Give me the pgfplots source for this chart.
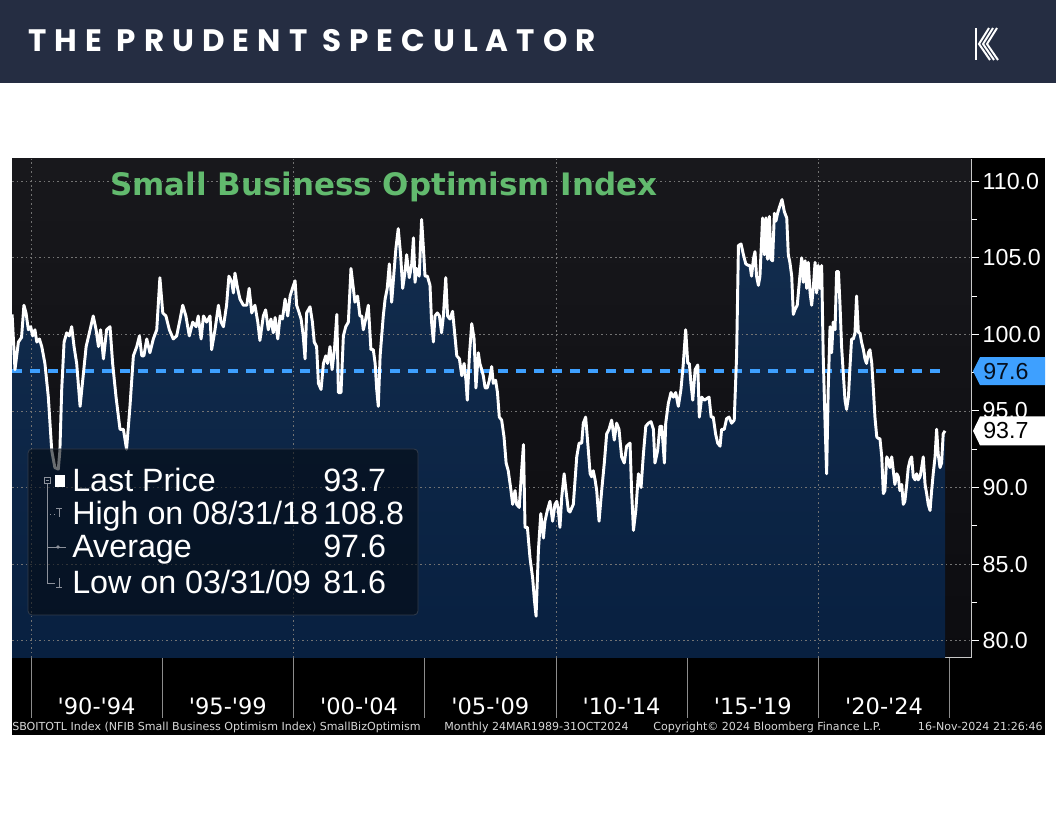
\documentclass[border=0pt]{standalone}
\usepackage{pgfplots}
\pgfplotsset{compat=1.18}
\usepackage{pgfplotstable}
\usepackage{fontspec}
\setmainfont{Liberation Sans}
\newfontfamily\djv{DejaVu Sans}
\newfontfamily\hdrfont[LetterSpace=26]{Poppins}
\usetikzlibrary{calc}

\definecolor{hdr}{RGB}{37,45,66}
\definecolor{ttl}{RGB}{98,186,110}
\definecolor{avgblue}{RGB}{62,160,255}
\definecolor{navytop}{RGB}{19,45,78}
\definecolor{navybot}{RGB}{8,32,64}
\definecolor{bgtop}{RGB}{24,24,28}
\definecolor{bgbot}{RGB}{12,12,16}
\definecolor{gridc}{RGB}{115,115,115}
\definecolor{sepgray}{RGB}{140,140,140}
\definecolor{axisgray}{RGB}{200,200,200}
\definecolor{legbg}{RGB}{4,10,18}
\definecolor{legborder}{RGB}{50,60,75}
\definecolor{treeg}{RGB}{140,145,155}
\definecolor{foot}{RGB}{215,215,215}
\definecolor{boxtext}{RGB}{5,15,30}

\pgfplotstableread{
yr v
1989.28 101.3
1989.39 97.7
1989.52 99.5
1989.64 99.8
1989.73 101.9
1989.81 101.4
1989.90 100.3
1989.99 100.5
1990.06 99.9
1990.15 100.3
1990.22 99.5
1990.32 99.7
1990.41 99.2
1990.53 98.1
1990.66 95.9
1990.79 92.4
1990.91 91.3
1991.04 91.2
1991.10 92.4
1991.17 96.4
1991.26 99.5
1991.36 100.1
1991.46 99.9
1991.55 100.5
1991.64 99.2
1991.74 98.1
1991.87 95.3
1991.97 97.0
1992.10 99.2
1992.25 100.3
1992.37 101.2
1992.48 100.3
1992.57 99.2
1992.65 100.3
1992.76 98.4
1992.88 100.3
1993.01 100.5
1993.11 98.1
1993.24 95.9
1993.39 93.8
1993.52 93.8
1993.64 92.5
1993.77 95.3
1993.90 98.6
1994.03 99.2
1994.13 99.9
1994.22 98.6
1994.30 98.6
1994.41 99.7
1994.53 98.8
1994.66 99.7
1994.79 100.3
1994.91 103.7
1995.02 101.4
1995.14 101.2
1995.27 100.3
1995.42 99.7
1995.55 99.9
1995.68 101.0
1995.78 101.9
1995.90 101.2
1996.03 99.9
1996.16 100.8
1996.29 100.5
1996.37 101.2
1996.48 99.7
1996.57 101.2
1996.69 100.8
1996.82 101.2
1996.88 99.0
1997.01 100.3
1997.14 101.9
1997.24 100.8
1997.33 100.5
1997.45 101.9
1997.54 103.8
1997.65 103.4
1997.71 102.7
1997.77 104.0
1997.87 103.0
1997.96 102.3
1998.09 101.9
1998.22 101.9
1998.31 103.0
1998.41 101.4
1998.53 101.9
1998.64 100.8
1998.72 99.6
1998.85 101.2
1998.94 101.6
1999.04 100.3
1999.14 101.0
1999.23 100.1
1999.30 101.1
1999.40 99.7
1999.49 101.2
1999.58 101.0
1999.68 102.3
1999.78 101.2
1999.87 102.5
1999.96 103.0
2000.06 103.5
2000.12 101.9
2000.18 101.6
2000.29 101.0
2000.37 99.9
2000.44 98.4
2000.50 101.4
2000.63 101.8
2000.72 100.8
2000.79 99.5
2000.88 99.2
2000.95 96.8
2001.05 96.4
2001.14 98.1
2001.23 98.6
2001.30 98.1
2001.39 99.2
2001.47 97.7
2001.56 99.0
2001.65 101.3
2001.71 96.2
2001.81 96.2
2001.90 99.9
2001.99 100.5
2002.09 100.8
2002.19 104.3
2002.28 103.0
2002.34 102.1
2002.44 102.5
2002.53 101.2
2002.60 101.2
2002.66 100.3
2002.75 101.0
2002.85 101.9
2002.95 99.0
2003.04 99.0
2003.11 98.1
2003.17 96.4
2003.23 95.3
2003.30 98.6
2003.36 99.9
2003.42 101.2
2003.49 102.3
2003.57 103.0
2003.65 104.6
2003.74 102.1
2003.83 104.1
2003.90 105.6
2003.99 106.9
2004.08 105.2
2004.16 103.0
2004.25 104.1
2004.31 105.2
2004.41 103.7
2004.50 104.5
2004.57 106.3
2004.63 103.4
2004.69 104.3
2004.79 103.8
2004.88 107.5
2004.95 105.6
2005.01 103.8
2005.10 103.8
2005.20 103.2
2005.26 100.8
2005.33 99.5
2005.39 101.2
2005.48 101.4
2005.56 101.2
2005.64 100.1
2005.71 101.2
2005.80 103.7
2005.87 101.2
2005.96 101.0
2006.06 101.5
2006.15 99.9
2006.22 98.6
2006.32 98.4
2006.41 97.3
2006.50 98.1
2006.57 97.0
2006.62 95.7
2006.70 98.6
2006.79 100.7
2006.88 99.7
2006.95 96.5
2007.04 98.8
2007.10 98.1
2007.17 97.7
2007.23 97.3
2007.30 96.5
2007.38 96.5
2007.46 97.0
2007.55 97.9
2007.61 96.8
2007.70 97.0
2007.77 96.2
2007.84 94.6
2007.93 94.4
2008.02 93.3
2008.10 91.6
2008.18 91.1
2008.27 90.0
2008.35 88.9
2008.44 89.8
2008.50 88.9
2008.60 88.7
2008.69 91.1
2008.76 92.8
2008.82 87.4
2008.91 87.4
2009.01 85.4
2009.11 84.1
2009.18 82.6
2009.24 81.6
2009.33 85.9
2009.42 88.3
2009.52 86.7
2009.58 87.8
2009.67 88.5
2009.77 89.1
2009.87 87.8
2009.96 88.9
2010.03 89.1
2010.09 88.5
2010.15 87.4
2010.22 89.4
2010.31 90.9
2010.38 89.8
2010.47 88.5
2010.53 88.4
2010.66 88.9
2010.79 92.0
2010.88 92.9
2010.98 92.9
2011.04 94.2
2011.13 94.6
2011.21 92.9
2011.30 90.9
2011.36 90.7
2011.42 91.1
2011.49 90.5
2011.55 89.8
2011.64 87.8
2011.74 89.8
2011.84 91.6
2011.93 93.5
2012.02 93.8
2012.12 94.4
2012.22 93.1
2012.31 94.2
2012.40 93.8
2012.50 92.0
2012.60 91.6
2012.69 92.7
2012.82 92.9
2012.88 89.8
2012.95 87.2
2013.04 88.5
2013.14 90.9
2013.24 90.0
2013.33 92.2
2013.42 94.0
2013.52 94.2
2013.62 94.3
2013.71 93.8
2013.77 91.6
2013.87 92.4
2013.96 94.0
2014.03 94.0
2014.13 91.6
2014.18 94.2
2014.28 95.5
2014.38 96.2
2014.47 95.9
2014.56 96.2
2014.66 95.3
2014.76 96.4
2014.85 98.1
2014.94 100.3
2015.02 98.1
2015.08 98.1
2015.14 96.8
2015.21 95.7
2015.30 97.7
2015.40 98.0
2015.46 94.6
2015.55 95.9
2015.65 95.7
2015.74 95.8
2015.83 95.9
2015.91 94.6
2015.99 94.6
2016.08 93.5
2016.16 92.9
2016.25 92.7
2016.31 93.8
2016.41 93.8
2016.50 94.5
2016.59 94.6
2016.69 94.2
2016.79 94.4
2016.88 98.6
2016.95 105.8
2017.05 105.9
2017.14 105.2
2017.23 104.6
2017.33 104.5
2017.39 104.5
2017.45 103.8
2017.52 104.9
2017.58 105.4
2017.64 103.8
2017.71 103.2
2017.77 103.8
2017.87 107.6
2017.94 105.2
2018.00 107.6
2018.06 104.9
2018.13 107.7
2018.19 104.9
2018.25 104.8
2018.32 107.9
2018.38 107.4
2018.44 107.9
2018.53 108.4
2018.61 108.8
2018.70 108.0
2018.79 107.6
2018.85 105.2
2018.91 104.7
2018.98 103.8
2019.04 101.3
2019.10 101.6
2019.19 101.9
2019.29 103.8
2019.36 105.0
2019.42 103.4
2019.49 104.8
2019.55 103.0
2019.61 104.7
2019.68 102.7
2019.74 101.9
2019.80 103.0
2019.87 104.7
2019.93 102.7
2019.99 104.5
2020.06 103.0
2020.12 104.5
2020.18 98.6
2020.25 94.2
2020.31 90.9
2020.37 96.4
2020.44 100.5
2020.50 98.8
2020.56 100.8
2020.63 100.3
2020.69 104.1
2020.76 104.1
2020.82 101.9
2020.88 99.2
2020.95 97.3
2021.01 95.7
2021.07 95.1
2021.14 95.9
2021.20 97.9
2021.26 99.7
2021.33 99.7
2021.39 100.1
2021.45 102.5
2021.52 100.1
2021.58 100.1
2021.64 99.5
2021.71 99.0
2021.77 98.4
2021.83 98.1
2021.90 98.8
2021.96 99.0
2022.03 98.1
2022.09 96.4
2022.15 94.6
2022.22 93.3
2022.28 93.2
2022.34 93.2
2022.41 92.0
2022.47 89.6
2022.53 89.8
2022.60 92.0
2022.66 91.8
2022.72 91.3
2022.79 92.0
2022.85 91.1
2022.91 90.2
2022.98 90.9
2023.04 90.7
2023.10 89.8
2023.17 90.2
2023.23 88.9
2023.29 89.1
2023.36 90.2
2023.42 91.3
2023.49 91.8
2023.55 92.0
2023.61 90.7
2023.68 90.5
2023.74 90.9
2023.80 90.5
2023.87 90.7
2023.93 91.3
2023.99 92.0
2024.06 90.2
2024.12 89.6
2024.18 88.9
2024.25 88.5
2024.31 89.8
2024.37 90.9
2024.44 92.0
2024.50 93.8
2024.56 92.2
2024.63 91.3
2024.69 91.6
2024.75 93.5
2024.82 93.7
}\sbdata

\begin{document}
\begin{tikzpicture}[x=0.75pt,y=0.75pt]
\fill[white] (0,0) rectangle (1056,816);
\useasboundingbox (0,0) rectangle (1056,816);
% header
\fill[hdr] (0,733) rectangle (1056,816);
\node[anchor=base west, inner sep=0pt, text=white, font=\hdrfont\bfseries\fontsize{23.25}{24}\selectfont] at (28,764.3) {THE PRUDENT SPECULATOR};
\begin{scope}[white, line width=1.5pt]
\draw (976,788) -- (976,756);
\foreach \i in {0,1,2} {
  \draw (989+4*\i,788) -- (979+4*\i,772) -- (990+4*\i,756);
}
\end{scope}
% chart panel
\fill[black] (12,81) rectangle (1045,658);
\begin{axis}[
  at={(9pt,118.5pt)}, anchor=south west,
  width=719.25pt, height=374.6pt, scale only axis,
  xmin=1989.276, xmax=2025.81, ymin=78.87, ymax=111.48,
  clip=false,
  axis x line*=bottom, axis y line*=right,
  axis line style={draw=axisgray, line width=0.75pt},
  axis background/.style={top color=bgtop, bottom color=bgbot},
  xtick={1992.5,1997.5,...,2022.5},
  xticklabels={{\textquotesingle90-\textquotesingle94},{\textquotesingle95-\textquotesingle99},{\textquotesingle00-\textquotesingle04},{\textquotesingle05-\textquotesingle09},{\textquotesingle10-\textquotesingle14},{\textquotesingle15-\textquotesingle19},{\textquotesingle20-\textquotesingle24}},
  xtick style={draw=none},
  xticklabel style={text=white, font=\djv\fontsize{16.9}{18}\selectfont, anchor=base, inner sep=0pt, yshift=-36.5pt},
  ytick={80,85,...,110},
  minor ytick={82.5,87.5,...,107.5},
  ytick style={draw=white, line width=0.75pt},
  tick align=outside,
  major tick length=6pt, minor tick length=4.5pt,
  yticklabel style={text=white, font=\fontsize{17.4}{18}\selectfont, anchor=west, inner sep=0pt, xshift=2.6pt,
    /pgf/number format/fixed, /pgf/number format/fixed zerofill, /pgf/number format/precision=1, /pgf/number format/assume math mode=true},
]
\addplot[draw=none, top color=navytop, bottom color=navybot, forget plot] table[x=yr,y=v]{\sbdata} -- (axis cs:2024.82,78.87) -- (axis cs:1989.276,78.87) -- cycle;
\pgfplotsinvokeforeach{80,85,90,95,100,105,110}{
  \draw[gridc, line width=0.6pt, dash pattern=on 1.2pt off 2.2pt] (axis cs:1989.276,#1) -- (axis cs:2025.81,#1);
}
\pgfplotsinvokeforeach{1990,2000,2010,2020}{
  \draw[gridc, line width=0.6pt, dash pattern=on 1.2pt off 2.2pt] (axis cs:#1,78.87) -- (axis cs:#1,111.48);
}
\pgfplotsinvokeforeach{1990,1995,2000,2005,2010,2015,2020,2025}{
  \draw[sepgray, line width=0.75pt] (axis cs:#1,78.87) -- ([yshift=-45pt]axis cs:#1,78.87);
}
\addplot[avgblue, line width=3pt, dash pattern=on 7.5pt off 6pt, forget plot] coordinates {(1989.276,97.6) (2024.82,97.6)};
\addplot[white, line width=2.2pt, line join=round, forget plot] table[x=yr,y=v]{\sbdata};
\coordinate (avgR) at (axis cs:2025.81,97.6);
\coordinate (lastR) at (axis cs:2025.81,93.7);
\end{axis}
% title
\node[anchor=base west, inner sep=0pt, text=ttl, font=\djv\bfseries\fontsize{23.2}{24}\selectfont] at (110,620.3) {Small Business Optimism Index};
% right-side value boxes
\begin{scope}[shift={(avgR)}]
  \fill[avgblue] (2,0) -- (9,14) -- (74,14) -- (74,-14) -- (9,-14) -- cycle;
  \node[anchor=west, inner sep=0pt, text=boxtext, font=\fontsize{17.4}{18}\selectfont] at (12,0) {97.6};
\end{scope}
\begin{scope}[shift={(lastR)}]
  \fill[white] (2,0) -- (9,14.5) -- (74,14.5) -- (74,-14.5) -- (9,-14.5) -- cycle;
  \node[anchor=west, inner sep=0pt, text=black, font=\fontsize{17.4}{18}\selectfont] at (12,0) {93.7};
\end{scope}
% legend box
\fill[legbg, fill opacity=0.6, rounded corners=3pt] (28,201) rectangle (418,367);
\draw[legborder, line width=0.6pt, rounded corners=3pt] (28,201) rectangle (418,367);
\begin{scope}[treeg, line width=0.6pt]
  \draw (44,333) rectangle (50,339);
  \draw (45.5,336) -- (48.5,336);
  \draw (47,333) -- (47,233);
  \draw[dotted] (47,302) -- (55,302);
  \draw (56,308) -- (62,308) (59,308) -- (59,299);
  \draw (47,269) -- (66,269);
  \fill (58,269) circle (1.8);
  \draw (47,233) -- (55,233);
  \draw (59,238) -- (59,229) (56,229) -- (62,229);
\end{scope}
\fill[white] (55,329) rectangle (65,341);
\begin{scope}[every node/.style={anchor=base west, inner sep=0pt, text=white, font=\fontsize{24.2}{26}\selectfont}]
  \node at (72,324.3) {Last Price};
  \node at (72,291) {High on 08/31/18};
  \node at (72,258) {Average};
  \node at (72,222) {Low on 03/31/09};
  \node at (323,324.3) {93.7};
  \node at (323,291) {108.8};
  \node at (323,258) {97.6};
  \node at (323,222) {81.6};
\end{scope}
% footer
\begin{scope}[every node/.style={inner sep=0pt, text=foot, font=\djv\fontsize{8.3}{9}\selectfont}]
  \node[anchor=base west] at (12,85.3) {SBOITOTL Index (NFIB Small Business Optimism Index) SmallBizOptimism};
  \node[anchor=base west] at (444,85.3) {Monthly 24MAR1989-31OCT2024};
  \node[anchor=base west] at (653,85.3) {Copyright© 2024 Bloomberg Finance L.P.};
  \node[anchor=base east] at (1043,85.3) {16-Nov-2024 21:26:46};
\end{scope}
\end{tikzpicture}
\end{document}
